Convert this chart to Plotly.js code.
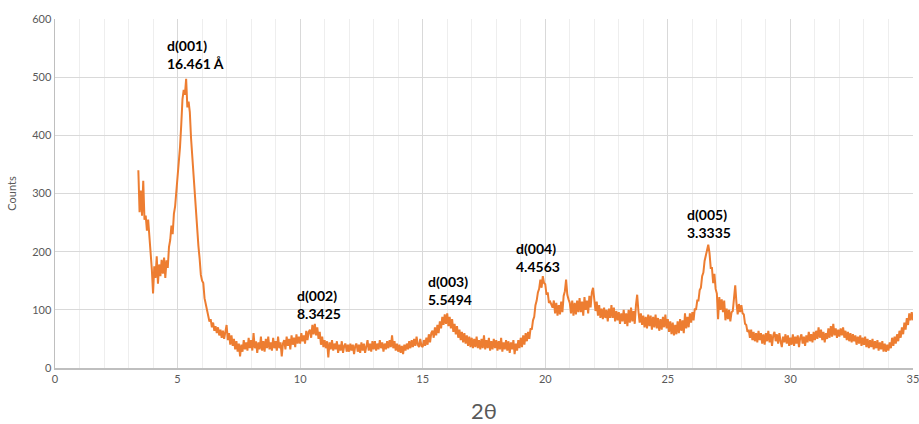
<!DOCTYPE html>
<html>
<head>
<meta charset="utf-8">
<script src="https://cdn.plot.ly/plotly-3.0.1.min.js"></script>
<style>html,body{margin:0;padding:0;background:#fff;}#chart{width:919px;height:424px;}</style>
</head>
<body>
<div id="chart"></div>
<script>
// 2θ sampling of the scan
var twoThetaStart = 3.4;
var twoThetaStep = 0.05;

// Counts, one row per 1° of 2θ
var counts = [
  340,268,305,262,322,255,262,236,255,228,205,170,
  128,175,155,192,145,178,158,186,162,190,155,185,172,208,220,245,230,265,278,305,
  325,345,380,418,462,478,470,497,448,458,440,395,362,340,310,270,235,210,188,160,
  150,146,120,110,96,92,80,84,70,78,64,72,60,70,56,66,52,64,50,62,
  74,48,60,40,56,38,50,32,46,28,42,20,40,28,48,32,44,30,52,34,
  48,30,60,34,46,26,44,32,54,30,46,28,50,34,54,32,44,30,52,34,
  46,30,54,34,44,20,42,48,32,54,38,50,32,56,40,52,36,58,42,54,
  42,60,46,56,42,64,48,62,66,52,74,58,76,56,70,50,62,40,54,36,
  48,34,46,18,44,32,48,30,42,32,46,26,40,30,46,26,38,42,28,40,
  28,42,30,40,24,38,42,28,40,26,44,30,42,26,40,48,30,42,28,46,
  32,46,30,42,32,48,34,44,28,42,32,46,34,48,36,56,34,46,30,42,
  28,40,26,38,24,40,30,42,32,46,34,48,36,50,38,54,40,36,50,38,
  36,48,38,52,40,58,44,60,64,52,70,56,74,60,80,68,88,74,92,76,
  94,72,88,68,84,62,76,58,72,52,66,48,62,44,60,42,56,38,54,36,
  52,34,50,36,54,34,48,32,50,34,56,32,48,34,52,30,46,32,50,34,
  48,30,46,32,52,28,44,32,48,30,46,26,44,32,48,24,42,30,48,34,
  52,36,56,40,60,46,62,50,68,66,82,88,108,116,130,136,152,138,158,146,
  144,126,130,112,114,108,104,116,94,112,90,108,92,114,96,124,132,152,126,118,
  112,94,116,90,112,92,116,96,120,96,114,90,122,100,116,94,124,104,130,138,
  120,98,114,90,108,86,102,84,104,86,100,80,102,86,108,86,104,80,98,82,
  96,76,94,80,100,76,94,72,100,78,104,80,98,76,108,126,98,78,94,74,
  90,70,88,68,92,72,90,66,88,70,92,68,86,64,84,66,88,70,92,68,
  84,62,80,58,78,56,74,58,80,60,84,64,82,60,94,68,88,70,94,78,
  96,82,102,100,116,116,134,138,158,164,184,194,208,212,198,172,172,146,162,136,
  128,84,122,100,118,96,116,82,102,84,100,80,96,98,120,142,112,92,110,96,
  108,94,92,76,74,62,66,52,66,48,62,46,60,44,64,48,60,42,58,40,
  60,46,64,44,58,38,56,62,46,58,42,60,46,36,54,44,58,42,56,38,
  52,40,58,38,54,42,56,36,52,58,42,54,38,56,44,62,46,58,44,62,
  48,64,50,70,52,66,48,62,44,60,50,68,52,72,54,76,56,68,52,66,
  54,68,56,70,52,64,48,62,46,60,44,58,46,56,40,54,42,56,38,52,
  40,54,36,50,34,48,36,50,32,46,34,48,30,44,32,46,28,42,28,40,
  30,44,34,52,38,54,42,58,46,64,52,70,58,78,66,86,74,94,82,96,
  82
];

// Peak labels
var peakX = [4.49, 9.79, 15.13, 18.72, 25.70];
var peakY = [539, 110, 133, 190, 248];
var peakLabels = ['d(001)<br>16.461 Å', 'd(002)<br>8.3425', 'd(003)<br>5.5494', 'd(004)<br>4.4563', 'd(005)<br>3.3335'];

// Axis ticks
var xTicks = [0, 5, 10, 15, 20, 25, 30, 35];
var yTicks = [0, 100, 200, 300, 400, 500, 600];

var trace = {
  type: 'scatter',
  mode: 'lines',
  x0: twoThetaStart,
  dx: twoThetaStep,
  y: counts,
  line: {color: '#ED7D31', width: 2},
  hoverinfo: 'skip'
};

var annotations = peakLabels.map(function (t, i) {
  return {
    x: peakX[i], y: peakY[i], xref: 'x', yref: 'y',
    text: '<b>' + t + '</b>', showarrow: false,
    xanchor: 'left', yanchor: 'middle', align: 'left',
    font: {family: 'Lato, sans-serif', size: 14, color: '#000000'}
  };
});

var layout = {
  width: 919, height: 424,
  margin: {l: 55, r: 6, t: 19, b: 56},
  paper_bgcolor: '#ffffff', plot_bgcolor: '#ffffff',
  showlegend: false,
  font: {family: 'Lato, sans-serif', color: '#595959', size: 11},
  xaxis: {
    range: [0, 35.002], tickvals: xTicks, ticktext: xTicks.map(String),
    showgrid: true, gridcolor: '#d9d9d9', gridwidth: 1,
    minor: {dtick: 1, showgrid: true, gridcolor: '#eeeeee', gridwidth: 1},
    showline: true, linecolor: '#bfbfbf', linewidth: 1.5,
    zeroline: false, ticks: '', ticklabeloverflow: 'allow',
    tickfont: {family: 'Lato, sans-serif', size: 11, color: '#595959'},
    title: {text: '2θ', font: {family: 'Lato, sans-serif', size: 22, color: '#595959'}, standoff: 20}
  },
  yaxis: {
    range: [0, 600], tickvals: yTicks, ticktext: yTicks.map(String),
    showgrid: true, gridcolor: '#d9d9d9', gridwidth: 1,
    showline: true, linecolor: '#bfbfbf', linewidth: 1.5,
    zeroline: false, ticks: '',
    tickfont: {family: 'Lato, sans-serif', size: 11, color: '#595959'},
    title: {text: 'Counts', font: {family: 'Lato, sans-serif', size: 11, color: '#595959'}, standoff: 13}
  },
  annotations: annotations
};

Plotly.newPlot('chart', [trace], layout, {displayModeBar: false, staticPlot: true});
</script>
</body>
</html>
